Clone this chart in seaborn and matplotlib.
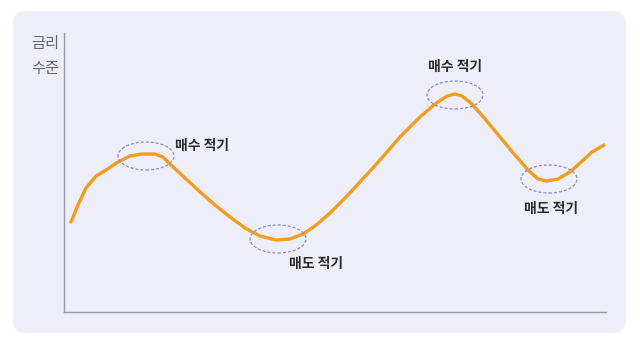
import matplotlib
matplotlib.use("Agg")
import matplotlib.pyplot as plt
from matplotlib.patches import Ellipse, FancyBboxPatch
import seaborn as sns
import pandas as pd

# ---- data ----
time_pts = [7, 14, 22, 32, 42, 54, 66, 78, 91, 99, 108, 121, 136, 151, 166, 181,
            196, 212, 226, 239, 251, 266, 281, 296, 316, 336, 356, 371, 383, 391,
            398, 408, 421, 436, 451, 464, 474, 483, 494, 506, 516, 528, 540]
rate_lvl = [90, 107, 124, 136, 142, 150, 156, 158, 158, 155, 146, 134, 120, 107, 95, 84,
            76, 72, 73, 78, 86, 99, 114, 130, 152, 175, 195, 208, 216, 218,
            216, 208, 193, 175, 157, 142, 133, 131, 133, 140, 149, 160, 167]

signal_labels = ["매수 적기", "매도 적기", "매수 적기", "매도 적기"]
signal_x = [82, 214, 391, 485]
signal_y = [156, 73, 217, 133]
label_x = [111, 252, 391, 487]
label_y = [166, 48, 245, 103]
label_ha = ["left", "center", "center", "center"]

y_label = "금리\n수준"

sns.set_theme(style="white")
plt.rcParams["font.family"] = ["Noto Sans CJK KR", "DejaVu Sans"]

fig = plt.figure(figsize=(6.4, 3.45), dpi=100)
fig.patch.set_facecolor("white")

panel = FancyBboxPatch((13 / 640, 12 / 345), 613 / 640, 322 / 345,
                       boxstyle="round,pad=0,rounding_size=0.02",
                       transform=fig.transFigure, facecolor="#EEEEF8",
                       edgecolor="none", zorder=-5, mutation_aspect=640 / 345)
fig.patches.append(panel)

ax = fig.add_axes([64 / 640, 33 / 345, 542 / 640, 279 / 345])
ax.set_zorder(2)
ax.patch.set_alpha(0)

df = pd.DataFrame({"t": time_pts, "r": rate_lvl})
sns.lineplot(data=df, x="t", y="r", ax=ax, color="#F39C1F", linewidth=2.4,
             solid_capstyle="round", solid_joinstyle="round")

for sx, sy in zip(signal_x, signal_y):
    ax.add_patch(Ellipse((sx, sy), 56, 28, fill=False, edgecolor="#8A90C8",
                         linestyle=(0, (2.5, 1.5)), linewidth=0.9, zorder=3))

for lab, lx, ly, ha in zip(signal_labels, label_x, label_y, label_ha):
    ax.text(lx, ly, lab, ha=ha, va="center", fontsize=10, fontweight="bold",
            color="#2B2B2B")

ax.set_xlim(0, 542)
ax.set_ylim(0, 279)
ax.set_xticks([])
ax.set_yticks([])
ax.set_xlabel("")
ax.set_ylabel("")
for s in ["top", "right"]:
    ax.spines[s].set_visible(False)
for s in ["left", "bottom"]:
    ax.spines[s].set_color("#9A9AA6")
    ax.spines[s].set_linewidth(1.0)

fig.text(45 / 640, 1 - 56 / 345, y_label, ha="center", va="center",
         fontsize=11, color="#666666", linespacing=1.55, zorder=3)

fig.savefig("out.png", dpi=100)
